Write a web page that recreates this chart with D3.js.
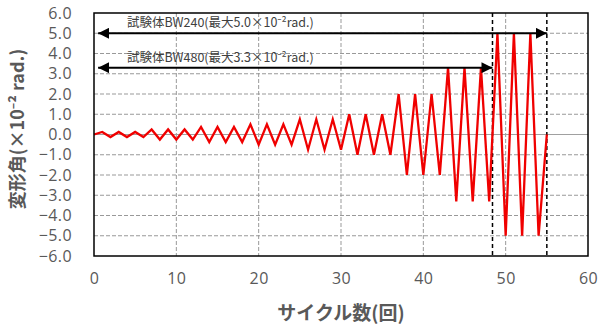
<!DOCTYPE html>
<html>
<head>
<meta charset="utf-8">
<script src="https://cdn.jsdelivr.net/npm/d3@7"></script>
<style>
  body { margin: 0; background: #fff; }
  svg { display: block; font-family: "Noto Sans CJK JP", "Noto Sans", sans-serif; }
</style>
</head>
<body>
<div id="chart"></div>
<script>
// cycle number and drift angle (x10^-2 rad.) at each peak
var cycles = [0, 1, 2, 3, 4, 5, 6, 7, 8, 9, 10, 11, 12, 13, 14, 15, 16, 17, 18, 19, 20,
  21, 22, 23, 24, 25, 26, 27, 28, 29, 30, 31, 32, 33, 34, 35, 36, 37, 38, 39, 40,
  41, 42, 43, 44, 45, 46, 47, 48, 49, 50, 51, 52, 53, 54, 55];
var drift = [0,
  0.125, -0.125, 0.125, -0.125, 0.125, -0.125,
  0.25, -0.25, 0.25, -0.25, 0.25, -0.25,
  0.375, -0.375, 0.375, -0.375, 0.375, -0.375,
  0.5, -0.5, 0.5, -0.5, 0.5, -0.5,
  0.75, -0.75, 0.75, -0.75, 0.75, -0.75,
  1.0, -1.0, 1.0, -1.0, 1.0, -1.0,
  2.0, -2.0, 2.0, -2.0, 2.0, -2.0,
  3.3, -3.3, 3.3, -3.3, 3.3, -3.3,
  5.0, -5.0, 5.0, -5.0, 5.0, -5.0,
  0];

var xTicks = [0, 10, 20, 30, 40, 50, 60];
var yTicks = [-6, -5, -4, -3, -2, -1, 0, 1, 2, 3, 4, 5, 6];

// specimen ranges (arrows)
var specimenLabels = ["試験体BW240(最大5.0×10⁻²rad.)", "試験体BW480(最大3.3×10⁻²rad.)"];
var specimenLevels = [5.0, 3.3];
var specimenStart = [0.5, 0.5];
var specimenEnd = [55, 48.4];
var markerLines = [48.4, 55];

var xTitle = "サイクル数(回)";
var yTitle = "変形角(×10⁻² rad.)";

var W = 601, H = 331;
var margin = { top: 13, right: 13, bottom: 75, left: 94 };
var width = W - margin.left - margin.right,
    height = H - margin.top - margin.bottom;

var svg = d3.select("#chart").append("svg")
    .attr("width", W).attr("height", H);

var defs = svg.append("defs");
defs.append("marker")
    .attr("id", "arr")
    .attr("markerUnits", "userSpaceOnUse")
    .attr("viewBox", "0 0 10 10")
    .attr("refX", 10).attr("refY", 5)
    .attr("markerWidth", 11).attr("markerHeight", 11)
    .attr("orient", "auto-start-reverse")
    .append("path")
    .attr("d", "M0,0 L10,5 L0,10 Z")
    .attr("fill", "#000");

var g = svg.append("g")
    .attr("transform", "translate(" + margin.left + "," + margin.top + ")");

var x = d3.scaleLinear().domain([0, 60]).range([0, width]);
var y = d3.scaleLinear().domain([-6, 6]).range([height, 0]);

// grid
g.append("g")
    .selectAll("line")
    .data(yTicks.filter(d => d !== 0 && Math.abs(d) !== 6))
    .enter().append("line")
    .attr("x1", 0).attr("x2", width)
    .attr("y1", d => y(d)).attr("y2", d => y(d))
    .attr("stroke", "#999")
    .attr("stroke-width", 1)
    .attr("stroke-dasharray", "4,2");
g.append("g")
    .selectAll("line")
    .data(xTicks.filter(d => d !== 0 && d !== 60))
    .enter().append("line")
    .attr("x1", d => x(d)).attr("x2", d => x(d))
    .attr("y1", 0).attr("y2", height)
    .attr("stroke", "#999")
    .attr("stroke-width", 1)
    .attr("stroke-dasharray", "4,2");
// zero line
g.append("line")
    .attr("x1", 0).attr("x2", width)
    .attr("y1", y(0)).attr("y2", y(0))
    .attr("stroke", "#a0a0a0")
    .attr("stroke-width", 1);

// axes (labels only)
var yAxis = g.append("g")
    .call(d3.axisLeft(y).tickValues(yTicks).tickFormat(d3.format(".1f")).tickSize(0).tickPadding(22));
yAxis.select(".domain").remove();
yAxis.selectAll("text")
    .attr("fill", "#595959")
    .style("font-size", "16px")
    .style("letter-spacing", "0.4px")
    .style("font-family", "'Open Sans', sans-serif");

var xAxis = g.append("g")
    .attr("transform", "translate(0," + height + ")")
    .call(d3.axisBottom(x).tickValues(xTicks).tickFormat(d3.format("d")).tickSize(0).tickPadding(17));
xAxis.select(".domain").remove();
xAxis.selectAll("text")
    .attr("fill", "#595959")
    .style("font-size", "16px")
    .style("letter-spacing", "0.4px")
    .style("font-family", "'Open Sans', sans-serif");

// black dashed vertical lines
g.append("g")
    .selectAll("line")
    .data(markerLines)
    .enter().append("line")
    .attr("x1", d => x(d)).attr("x2", d => x(d))
    .attr("y1", 0).attr("y2", height)
    .attr("stroke", "#000")
    .attr("stroke-width", 1.5)
    .attr("stroke-dasharray", "4,3");

// red loading history
var pts = cycles.map((c, i) => [c, drift[i]]);
g.append("path")
    .datum(pts)
    .attr("fill", "none")
    .attr("stroke", "#f00000")
    .attr("stroke-width", 2.3)
    .attr("stroke-linejoin", "miter")
    .attr("d", d3.line().x(d => x(d[0])).y(d => y(d[1])));

// arrows and labels
specimenLabels.forEach(function(lbl, i) {
    g.append("line")
        .attr("x1", x(specimenStart[i])).attr("x2", x(specimenEnd[i]))
        .attr("y1", y(specimenLevels[i])).attr("y2", y(specimenLevels[i]))
        .attr("stroke", "#000")
        .attr("stroke-width", 2)
        .attr("marker-start", "url(#arr)")
        .attr("marker-end", "url(#arr)");
    g.append("text")
        .attr("x", x(4))
        .attr("y", y(specimenLevels[i]) - 6)
        .attr("fill", "#404040")
        .style("font-size", "12.5px")
        .text(lbl);
});

// frame
g.append("rect")
    .attr("x", 0).attr("y", 0)
    .attr("width", width).attr("height", height)
    .attr("fill", "none")
    .attr("stroke", "#000")
    .attr("stroke-width", 1.5);

// titles
svg.append("text")
    .attr("x", 341)
    .attr("y", 320)
    .attr("text-anchor", "middle")
    .attr("fill", "#595959")
    .style("font-size", "19px")
    .style("font-weight", "bold")
    .text(xTitle);

svg.append("text")
    .attr("transform", "translate(24,129) rotate(-90)")
    .attr("text-anchor", "middle")
    .attr("fill", "#595959")
    .style("font-size", "18px")
    .style("font-weight", "bold")
    .text(yTitle);
</script>
</body>
</html>
